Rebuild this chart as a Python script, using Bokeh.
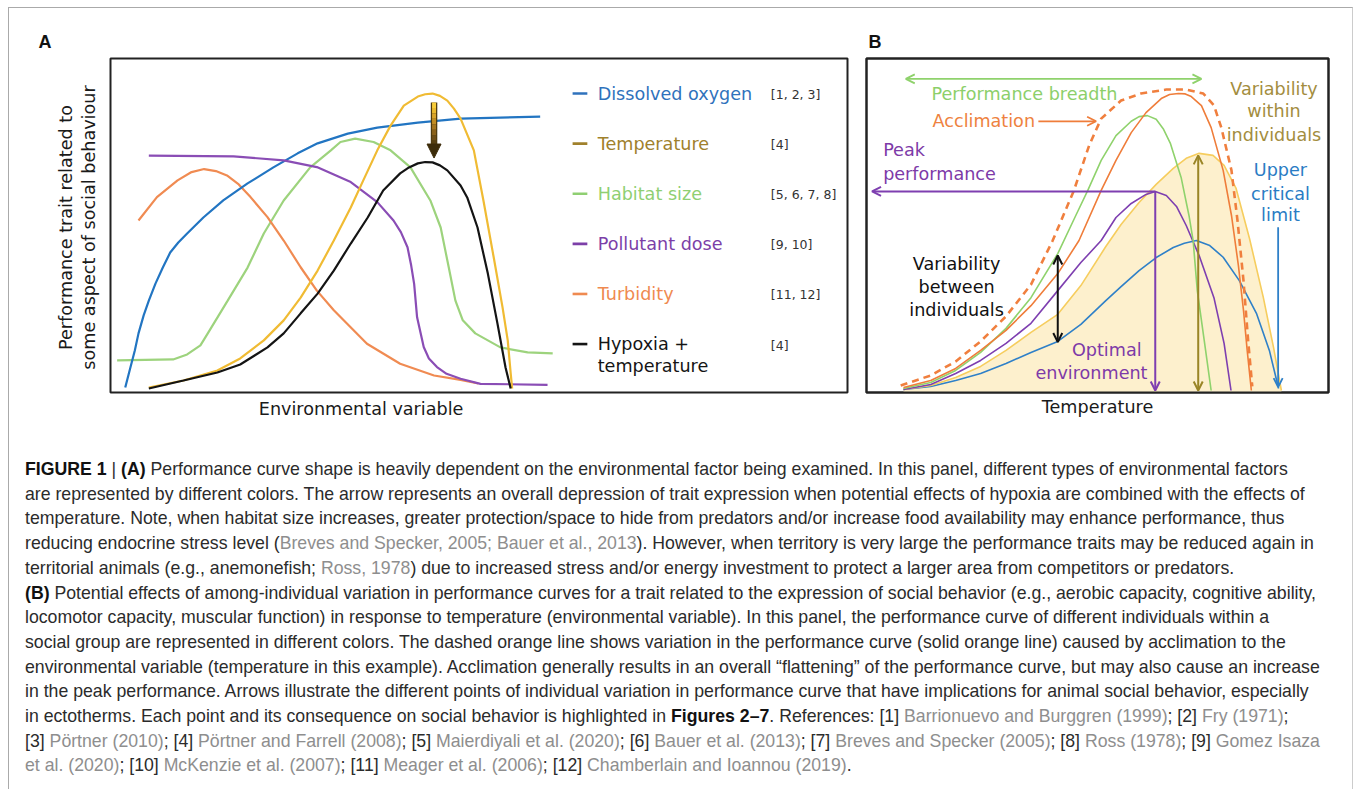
import numpy as np
from bokeh.plotting import figure
from bokeh.models import Range1d, Label, Arrow, OpenHead, NormalHead, Div
from bokeh.layouts import row, column
from bokeh.core.properties import value
from bokeh.embed import file_html
from bokeh.resources import INLINE

FONT = "DejaVu Sans"
TXT = "17.6px"

# ---------------- Panel A: performance vs. environmental variable ----------------
oxygen_x = [2.0, 2.7, 3.3, 3.8, 4.5, 5.2, 6.1, 7.1, 8.1, 9.2, 10.4, 12.6, 15.3, 18.6, 22.1, 25.4, 28.1, 32.2, 36.2, 41.7, 47.5, 58.3]
oxygen_y = [1.5, 7.5, 12.6, 17.7, 23.1, 27.5, 32.6, 37.4, 41.9, 44.9, 47.6, 52.4, 57.5, 62.6, 67.4, 71.6, 74.6, 77.5, 79.3, 80.8, 82.0, 82.6]

turbidity_x = [3.8, 6.3, 9.1, 11.0, 12.7, 14.3, 15.8, 17.4, 19.0, 21.3, 23.5, 25.8, 28.0, 30.3, 34.8, 39.3, 43.9, 47.5, 49.9]
turbidity_y = [51.5, 58.5, 63.5, 66.0, 66.9, 66.3, 65.0, 62.3, 58.5, 52.5, 45.5, 37.5, 30.5, 24.6, 14.6, 8.6, 5.1, 3.8, 2.7]

pollutant_x = [5.2, 16.7, 23.5, 28.0, 32.6, 36.2, 38.4, 39.4, 40.3, 40.8, 41.2, 41.6, 42.5, 43.2, 44.3, 45.6, 47.5, 50.2, 59.3]
pollutant_y = [70.9, 70.7, 69.5, 67.5, 63.0, 57.0, 51.5, 48.0, 43.5, 38.0, 32.5, 22.5, 13.6, 10.2, 7.6, 5.6, 4.1, 2.6, 2.3]

habitat_x = [0.9, 8.5, 10.4, 12.2, 13.2, 15.9, 18.6, 20.8, 23.5, 27.1, 29.9, 31.2, 33.2, 35.7, 38.0, 40.7, 43.4, 44.8,
             45.9, 46.8, 47.8, 49.5, 52.9, 56.6, 60.0]
habitat_y = [9.6, 9.9, 11.4, 14.1, 17.7, 27.5, 37.4, 47.6, 57.5, 67.4, 72.5, 75.0, 76.0, 75.0, 72.5, 67.4, 57.5, 49.4,
             37.4, 27.5, 21.6, 17.7, 13.5, 12.0, 11.7]

temp_x = [5.2, 9.9, 14.5, 17.6, 20.8, 23.5, 25.8, 28.1, 30.3, 32.6, 34.3, 36.2, 38.0, 39.8, 41.7, 42.7, 43.7,
          44.7, 45.7, 46.6, 47.5, 49.3, 50.6, 52.0, 53.2, 53.9, 54.3, 54.5]
temp_y = [1.5, 3.6, 6.6, 10.2, 15.6, 21.6, 28.4, 36.5, 45.5, 55.4, 63.5, 72.5, 79.9, 85.9, 88.6, 89.3, 89.5,
          88.8, 87.4, 85.0, 82.0, 72.5, 57.5, 40.4, 25.4, 15.6, 5.7, 1.2]

hypoxia_x = [5.2, 9.9, 14.5, 17.6, 21.3, 23.5, 25.8, 28.1, 30.3, 32.6, 34.9, 37.0, 39.3, 40.5, 41.7, 42.7, 43.7,
             44.7, 45.7, 47.5, 48.4, 49.8, 51.2, 52.5, 53.6, 54.3]
hypoxia_y = [1.2, 3.6, 6.0, 8.4, 13.5, 17.7, 23.7, 29.6, 36.5, 44.6, 52.4, 60.5, 65.6, 67.4, 68.6, 69.0, 68.9,
             68.0, 66.5, 62.0, 58.4, 49.4, 35.6, 20.7, 7.5, 1.2]

# depression of the temperature optimum when hypoxia is added
drop_x = 43.9
drop_from, drop_to = 86.8, 70.2

legend_labels = ["Dissolved oxygen", "Temperature", "Habitat size", "Pollutant dose", "Turbidity", "Hypoxia +"]
legend_refs = ["[1, 2, 3]", "[4]", "[5, 6, 7, 8]", "[9, 10]", "[11, 12]", "[4]"]

# ---------------- Panel B: thermal performance curves ----------------
ind_blue_x = [8.0, 13.9, 19.3, 24.7, 30.2, 35.6, 41.4, 46.4, 51.8, 55.1, 59.0, 62.7, 66.4, 68.8, 71.4, 74.3, 77.2, 80.7, 84.4, 87.2, 89.2]
ind_blue_y = [0.9, 1.8, 3.6, 5.7, 8.7, 12.0, 15.3, 20.4, 27.5, 31.7, 36.5, 40.4, 43.4, 44.7, 45.5, 44.0, 40.5, 33.5, 23.7, 12.6, 1.2]

ind_yellow_x = [8.0, 13.9, 19.3, 24.7, 30.2, 35.6, 41.4, 46.4, 51.8, 55.1, 59.0, 62.7, 66.4, 69.2, 72.0, 75.0,
                77.4, 80.0, 82.9, 85.9, 88.1, 89.8]
ind_yellow_y = [0.9, 2.1, 4.5, 7.8, 12.6, 18.0, 23.4, 32.0, 43.7, 50.3, 56.9, 62.3, 67.1, 70.1, 71.6, 71.0,
                68.0, 61.1, 46.1, 28.4, 13.5, 0.6]

ind_purple_x = [8.0, 13.9, 19.3, 24.7, 30.2, 35.6, 41.4, 46.4, 50.8, 54.0, 57.3, 60.5, 62.5, 64.9, 67.1,
                69.2, 72.0, 75.2, 77.4, 78.9]
ind_purple_y = [0.9, 2.4, 5.7, 9.6, 14.7, 20.7, 30.5, 38.9, 45.5, 52.4, 56.6, 59.3, 60.2, 59.0, 55.7,
                50.0, 41.0, 28.4, 14.7, 0.6]

ind_green_x = [8.0, 13.9, 19.3, 24.7, 30.2, 35.6, 41.4, 45.3, 47.9, 50.8, 54.0, 57.3, 59.0, 60.8, 62.7, 64.3,
               65.8, 68.1, 69.8, 70.7, 71.6, 73.1, 74.6]
ind_green_y = [1.2, 3.0, 6.6, 12.0, 19.2, 28.4, 41.6, 53.0, 60.5, 69.5, 76.9, 81.2, 82.6, 82.9, 81.8, 78.8,
               74.5, 64.4, 53.0, 45.5, 30.5, 15.6, 0.6]

ind_orange_x = [8.0, 13.9, 19.3, 24.7, 30.2, 35.6, 41.4, 46.0, 50.8, 54.0, 57.3, 60.5, 63.8, 65.6, 67.5, 69.0,
                70.3, 72.5, 74.6, 77.2, 79.0, 80.5, 81.6, 82.4, 83.3]
ind_orange_y = [1.5, 3.6, 7.2, 12.6, 18.6, 26.0, 35.6, 45.5, 60.5, 69.5, 77.8, 83.8, 88.0, 89.2, 89.5, 89.4,
                88.6, 85.9, 79.3, 66.5, 53.0, 38.0, 24.6, 12.6, 0.6]

acclim_x = [7.4, 13.9, 19.3, 24.7, 30.2, 35.6, 40.3, 44.9, 48.2, 50.8, 55.1, 59.4, 64.9, 69.2, 72.9,
            75.2, 76.8, 79.0, 80.3, 81.6, 82.6, 83.5]
acclim_y = [2.1, 5.1, 9.3, 15.3, 22.8, 32.3, 45.5, 60.5, 74.0, 82.0, 87.4, 89.5, 90.7, 90.7, 89.5,
            86.0, 79.3, 66.5, 51.5, 33.5, 15.6, 1.8]

breadth = (8.5, 72.5, 93.9)          # x start, x end, y
acclim_arrow = (37.2, 49.7, 81.2)    # x start, x end, y
peak_perf = (62.5, 60.2)             # optimum temperature, peak performance
peak_arrow_end = 1.2
within_arrow = (71.8, 71.0, 0.6)     # x, top, bottom
ctmax_arrow = (89.1, 49.5, 1.6)      # x, top, bottom
between_arrow = (41.4, 41.0, 15.1)   # x, top, bottom

# ---------------- colours ----------------
C_BLUE, C_YEL, C_GREEN, C_PURP, C_ORNG, C_BLK = "#2275c2", "#f0bb33", "#9dd37d", "#8a4db5", "#f08b52", "#141414"
legend_colors = ["#2f72bc", "#a0812c", "#8fcf72", "#7c3fa8", "#ef8a50", "#151515"]

FIG_H, TOP, BOTTOM = 412, 50, 28


def panel(width, left, right):
    """Figure whose 0-100 data box sits at a fixed pixel frame; the rest is room for labels."""
    sx = (width - left - right) / 100.0
    sy = (FIG_H - TOP - BOTTOM) / 100.0
    p = figure(width=width, height=FIG_H,
               x_range=Range1d(-left / sx, 100 + right / sx),
               y_range=Range1d(-BOTTOM / sy, 100 + TOP / sy),
               output_backend="svg", toolbar_location=None,
               x_axis_location=None, y_axis_location=None,
               min_border_left=0, min_border_right=0, min_border_top=0, min_border_bottom=0)
    p.grid.visible = False
    p.outline_line_color = None
    p.border_fill_color = "white"
    p.quad(left=0, right=100, bottom=0, top=100, fill_alpha=0, line_color="#222222", line_width=2)
    return p


def label(p, x, y, text, color, size=TXT, align="center", angle=0.0, font=FONT, style="normal"):
    p.add_layout(Label(x=x, y=y, text=text, text_color=color, text_font_size=size, text_align=align,
                       text_baseline="middle", angle=angle, text_font=font, text_font_style=style))


# ================= Panel A =================
pa = panel(850, 101, 12)
lw = 2.2
pa.line(habitat_x, habitat_y, line_color=C_GREEN, line_width=lw)
pa.line(turbidity_x, turbidity_y, line_color=C_ORNG, line_width=lw)
pa.line(oxygen_x, oxygen_y, line_color=C_BLUE, line_width=lw)
pa.line(pollutant_x, pollutant_y, line_color=C_PURP, line_width=lw)
pa.line(temp_x, temp_y, line_color=C_YEL, line_width=lw)
pa.line(hypoxia_x, hypoxia_y, line_color=C_BLK, line_width=lw)

# gradient arrow (yellow to dark brown)
shaft_end = drop_to + 3.6
n_seg = 8
edges = np.linspace(drop_from, shaft_end, n_seg + 1)
grad = ["#f7cc3a", "#eab92f", "#d9a42a", "#c18d24", "#a6761f", "#8a611a", "#6e4d15", "#574011"]
pa.segment(x0=drop_x, y0=drop_from, x1=drop_x, y1=shaft_end, line_color="#4d3a10", line_width=6.5)
pa.segment(x0=[drop_x] * n_seg, y0=edges[:-1], x1=[drop_x] * n_seg, y1=edges[1:], line_color=grad, line_width=4)
pa.add_layout(Arrow(end=NormalHead(size=14, fill_color="#3c2c0a", line_color="#3c2c0a"),
                    x_start=drop_x, y_start=shaft_end + 0.5, x_end=drop_x, y_end=drop_to, line_alpha=0))

# legend
leg_y = [89.5 - 15.0 * i for i in range(len(legend_labels))]
pa.segment(x0=62.7, y0=leg_y, x1=64.7, y1=leg_y, line_color=legend_colors, line_width=2.6)
pa.text(x=[66.1] * 6, y=leg_y, text=legend_labels, text_color=legend_colors, text_font=value(FONT),
        text_font_size=TXT, text_baseline="middle", text_align="left")
pa.text(x=[66.1], y=[leg_y[-1] - 6.5], text=["temperature"], text_color="#151515", text_font=value(FONT),
        text_font_size=TXT, text_baseline="middle", text_align="left")
pa.text(x=[89.6] * 6, y=[y - 0.3 for y in leg_y], text=legend_refs, text_color="#333333", text_font=value(FONT),
        text_font_size="12.5px", text_baseline="middle", text_align="left")

label(pa, -9.77, 104.8, "A", "#111111", size="18px", align="left", font="Liberation Sans", style="bold")
label(pa, -6.0, 49.4, "Performance trait related to", "#1a1a1a", angle=np.pi / 2)
label(pa, -2.95, 49.4, "some aspect of social behaviour", "#1a1a1a", angle=np.pi / 2)
label(pa, 34.0, -4.8, "Environmental variable", "#1a1a1a")

# ================= Panel B =================
pb = panel(483, 7, 14)
pb.varea(x=ind_yellow_x, y1=0, y2=ind_yellow_y, fill_color="#fdf0cd")
lb = 1.6
pb.line(ind_blue_x, ind_blue_y, line_color="#2f80c8", line_width=lb)
pb.line(ind_yellow_x, ind_yellow_y, line_color="#f6cd5e", line_width=lb)
pb.line(ind_purple_x, ind_purple_y, line_color="#7e3fb0", line_width=lb)
pb.line(ind_green_x, ind_green_y, line_color="#8fd26c", line_width=lb)
pb.line(ind_orange_x, ind_orange_y, line_color="#ef7d3a", line_width=lb)
pb.line(acclim_x, acclim_y, line_color="#f07f3e", line_width=2.6, line_dash="7 5")
pb.quad(left=0, right=100, bottom=0, top=100, fill_alpha=0, line_color="#222222", line_width=2)

# arrows
gr = "#8fd26c"
pb.add_layout(Arrow(start=OpenHead(size=9, line_color=gr, line_width=1.8), end=OpenHead(size=9, line_color=gr, line_width=1.8),
                    x_start=breadth[0], y_start=breadth[2], x_end=breadth[1], y_end=breadth[2],
                    line_color=gr, line_width=1.8))
pb.add_layout(Arrow(end=OpenHead(size=9, line_color="#ef7d3a", line_width=1.8),
                    x_start=acclim_arrow[0], y_start=acclim_arrow[2], x_end=acclim_arrow[1], y_end=acclim_arrow[2],
                    line_color="#ef7d3a", line_width=1.8))
pu = "#7e3fb0"
pb.add_layout(Arrow(end=OpenHead(size=9, line_color=pu, line_width=2),
                    x_start=peak_perf[0], y_start=peak_perf[1], x_end=peak_arrow_end, y_end=peak_perf[1],
                    line_color=pu, line_width=2))
pb.add_layout(Arrow(end=OpenHead(size=9, line_color=pu, line_width=2),
                    x_start=peak_perf[0], y_start=peak_perf[1], x_end=peak_perf[0], y_end=0.6,
                    line_color=pu, line_width=2))
ol = "#9a8526"
pb.add_layout(Arrow(start=OpenHead(size=9, line_color=ol, line_width=2), end=OpenHead(size=9, line_color=ol, line_width=2),
                    x_start=within_arrow[0], y_start=within_arrow[1], x_end=within_arrow[0], y_end=within_arrow[2],
                    line_color=ol, line_width=2))
bl = "#2f80c8"
pb.add_layout(Arrow(end=OpenHead(size=9, line_color=bl, line_width=1.8),
                    x_start=ctmax_arrow[0], y_start=ctmax_arrow[1], x_end=ctmax_arrow[0], y_end=ctmax_arrow[2],
                    line_color=bl, line_width=1.8))
pb.add_layout(Arrow(start=OpenHead(size=9, line_color="#111111", line_width=2),
                    end=OpenHead(size=9, line_color="#111111", line_width=2),
                    x_start=between_arrow[0], y_start=between_arrow[1], x_end=between_arrow[0], y_end=between_arrow[2],
                    line_color="#111111", line_width=2))

label(pb, 34.2, 89.4, "Performance breadth", "#8ccf6a")
label(pb, 14.3, 81.2, "Acclimation", "#ee8240", align="left")
label(pb, 3.6, 72.5, "Peak", "#7d3aa8", align="left")
label(pb, 3.6, 65.5, "performance", "#7d3aa8", align="left")
for txt, yy in zip(["Variability", "within", "individuals"], [90.9, 84.2, 77.2]):
    label(pb, 88.2, yy, txt, "#a38d3e")
for txt, yy in zip(["Upper", "critical", "limit"], [66.5, 59.5, 53.0]):
    label(pb, 89.6, yy, txt, "#2a7cc4")
for txt, yy in zip(["Variability", "between", "individuals"], [38.5, 31.5, 24.8]):
    label(pb, 19.5, yy, txt, "#111111")
label(pb, 52.0, 12.6, "Optimal", "#7d3aa8")
label(pb, 48.7, 5.8, "environment", "#7d3aa8")
label(pb, 0.43, 104.8, "B", "#111111", size="18px", align="left", font="Liberation Sans", style="bold")
label(pb, 50.0, -4.2, "Temperature", "#1a1a1a")

# ================= Caption =================
def g(s):
    return f'<span style="color:#8e8e8e">{s}</span>'


def b(s):
    return f'<b style="color:#111">{s}</b>'


lines = [
    f'{b("FIGURE 1")} | {b("(A)")} Performance curve shape is heavily dependent on the environmental factor being examined. In this panel, different types of environmental factors',
    'are represented by different colors. The arrow represents an overall depression of trait expression when potential effects of hypoxia are combined with the effects of',
    'temperature. Note, when habitat size increases, greater protection/space to hide from predators and/or increase food availability may enhance performance, thus',
    f'reducing endocrine stress level ({g("Breves and Specker, 2005; Bauer et al., 2013")}). However, when territory is very large the performance traits may be reduced again in',
    f'territorial animals (e.g., anemonefish; {g("Ross, 1978")}) due to increased stress and/or energy investment to protect a larger area from competitors or predators.',
    f'{b("(B)")} Potential effects of among-individual variation in performance curves for a trait related to the expression of social behavior (e.g., aerobic capacity, cognitive ability,',
    'locomotor capacity, muscular function) in response to temperature (environmental variable). In this panel, the performance curve of different individuals within a',
    'social group are represented in different colors. The dashed orange line shows variation in the performance curve (solid orange line) caused by acclimation to the',
    'environmental variable (temperature in this example). Acclimation generally results in an overall \u201cflattening\u201d of the performance curve, but may also cause an increase',
    'in the peak performance. Arrows illustrate the different points of individual variation in performance curve that have implications for animal social behavior, especially',
    f'in ectotherms. Each point and its consequence on social behavior is highlighted in {b("Figures 2\u20137")}. References: [1] {g("Barrionuevo and Burggren (1999)")}; [2] {g("Fry (1971)")};',
    f'[3] {g("P\u00f6rtner (2010)")}; [4] {g("P\u00f6rtner and Farrell (2008)")}; [5] {g("Maierdiyali et al. (2020)")}; [6] {g("Bauer et al. (2013)")}; [7] {g("Breves and Specker (2005)")}; [8] {g("Ross (1978)")}; [9] {g("Gomez Isaza")}',
    f'{g("et al. (2020)")}; [10] {g("McKenzie et al. (2007)")}; [11] {g("Meager et al. (2006)")}; [12] {g("Chamberlain and Ioannou (2019)")}.',
]
caption_html = ('<div style="font-family:\'Liberation Sans\',Arial,sans-serif;font-size:17.7px;line-height:24.7px;'
                'color:#2b2b2b;white-space:nowrap;padding:32px 0 0 11px;">' + "<br>".join(lines) + '</div>')
caption = Div(text=caption_html, width=1333, height=369)

page = column(row(pa, pb), caption, margin=(7, 0, 0, 8),
              styles={"border-left": "1px solid #aaaaaa", "border-top": "1px solid #aaaaaa",
                      "border-right": "1px solid #cccccc"})

open("out.html", "w").write(file_html(page, INLINE))
